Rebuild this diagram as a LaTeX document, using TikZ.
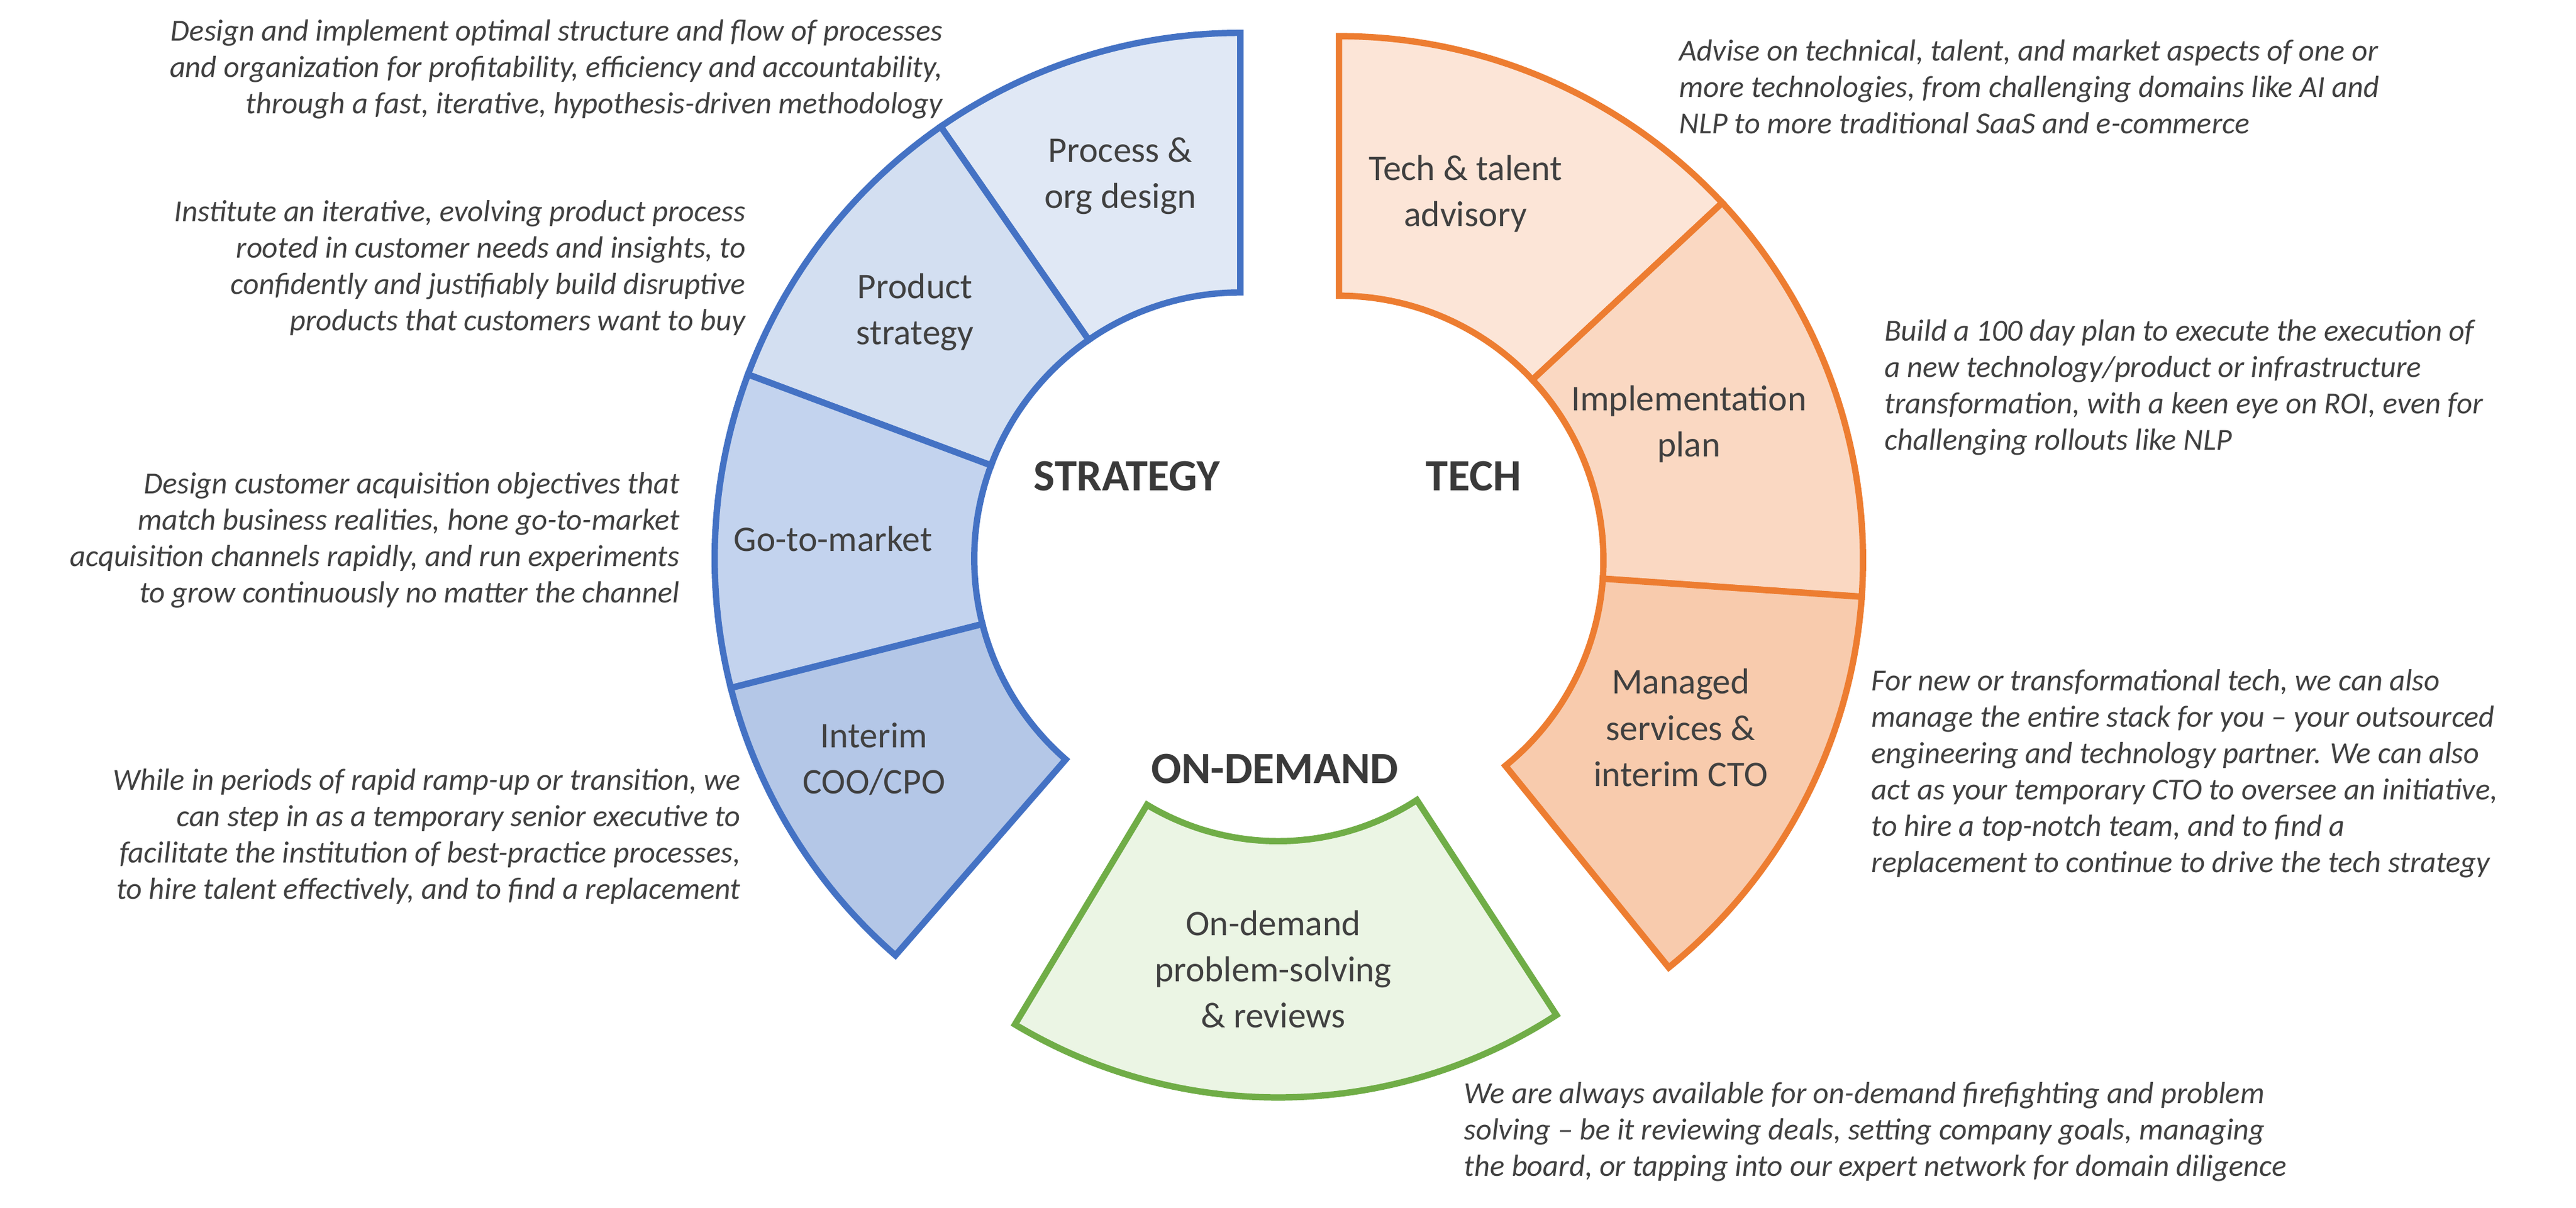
\documentclass[tikz,border=0pt]{standalone}
\usepackage{fontspec}
\setmainfont{Carlito}
\usepackage{tikz}
\usetikzlibrary{positioning}
\definecolor{textgrey}{HTML}{404040}
\definecolor{stratline}{HTML}{4472C4}
\definecolor{techline}{HTML}{ED7D31}
\definecolor{demandline}{HTML}{70AD47}
\definecolor{stratA}{HTML}{E0E8F5}
\definecolor{stratB}{HTML}{D3DFF1}
\definecolor{stratC}{HTML}{C3D3EE}
\definecolor{stratD}{HTML}{B4C7E7}
\definecolor{techA}{HTML}{FCE5D7}
\definecolor{techB}{HTML}{FAD8C2}
\definecolor{techC}{HTML}{F8CBAD}
\definecolor{demandA}{HTML}{EBF5E4}

% #1 centre, #2 start angle, #3 end angle, #4 inner radius, #5 outer radius, #6 style
\newcommand{\ringpart}[6]{%
  \draw[#6] ([shift={(#2:#5)}]#1) arc[start angle=#2, end angle=#3, radius=#5]
    -- ([shift={(#3:#4)}]#1) arc[start angle=#3, end angle=#2, radius=#4] -- cycle;}

\begin{document}
\begin{tikzpicture}[x=0.02cm, y=0.02cm,
    part/.style={line width=2.2pt, line join=miter},
    seglabel/.style={align=center, text=textgrey, font=\fontsize{12.5}{16}\selectfont},
    head/.style={text=textgrey!90!black, font=\fontsize{15.5}{18}\selectfont\bfseries},
    desc/.style={text=textgrey, font=\fontsize{10.6}{12.6}\selectfont\itshape}
]
\useasboundingbox (0,0) rectangle (1568,735);

\coordinate (strat) at (755,395);
\coordinate (tech) at (815,394);
\coordinate (demand) at (778,378);

% strategy
\ringpart{strat}{90}{124.75}{162}{320}{part, draw=stratline, fill=stratA}
\ringpart{strat}{124.75}{159.5}{162}{320}{part, draw=stratline, fill=stratB}
\ringpart{strat}{159.5}{194.25}{162}{320}{part, draw=stratline, fill=stratC}
\ringpart{strat}{194.25}{229}{162}{320}{part, draw=stratline, fill=stratD}

% tech
\ringpart{tech}{43}{90}{161}{319}{part, draw=techline, fill=techA}
\ringpart{tech}{-4}{43}{161}{319}{part, draw=techline, fill=techB}
\ringpart{tech}{-51}{-4}{161}{319}{part, draw=techline, fill=techC}

% on-demand
\ringpart{demand}{239}{303}{155}{311}{part, draw=demandline, fill=demandA}

\node[seglabel] (process) at (682,628) {Process \&\\org design};
\node[seglabel] (product) at (557,545) {Product\\strategy};
\node[seglabel] (gtm) at (507,407) {Go-to-market};
\node[seglabel] (interim) at (532,273) {Interim\\COO/CPO};
\node[seglabel] (advisory) at (892,617) {Tech \& talent\\advisory};
\node[seglabel] (implplan) at (1028,477) {Implementation\\plan};
\node[seglabel] (managed) at (1023,292) {Managed\\services \&\\interim CTO};
\node[seglabel] (ondemand) at (775,145) {On-demand\\problem-solving\\\& reviews};

\node[head] (strathead) at (686,445) {STRATEGY};
\node[head] (techhead) at (897,445) {TECH};
\node[head] (demandhead) at (776,267) {ON-DEMAND};

\node[desc, anchor=east, align=right] (processdesc) at (580,693) {Design and implement optimal structure and flow of processes\\and organization for profitability, efficiency and accountability,\\through a fast, iterative, hypothesis-driven methodology};
\node[desc, anchor=east, align=right] (productdesc) at (460,572) {Institute an iterative, evolving product process\\rooted in customer needs and insights, to\\confidently and justifiably build disruptive\\products that customers want to buy};
\node[desc, anchor=east, align=right] (gtmdesc) at (420,406) {Design customer acquisition objectives that\\match business realities, hone go-to-market\\acquisition channels rapidly, and run experiments\\to grow continuously no matter the channel};
\node[desc, anchor=east, align=right] (interimdesc) at (457,226) {While in periods of rapid ramp-up or transition, we\\can step in as a temporary senior executive to\\facilitate the institution of best-practice processes,\\to hire talent effectively, and to find a replacement};
\node[desc, anchor=west, align=left] (advisorydesc) at (1016,682) {Advise on technical, talent, and market aspects of one or\\more technologies, from challenging domains like AI and\\NLP to more traditional SaaS and e-commerce};
\node[desc, anchor=west, align=left] (impldesc) at (1141,499) {Build a 100 day plan to execute the execution of\\a new technology/product or infrastructure\\transformation, with a keen eye on ROI, even for\\challenging rollouts like NLP};
\node[desc, anchor=west, align=left] (manageddesc) at (1133,264) {For new or transformational tech, we can also\\manage the entire stack for you -- your outsourced\\engineering and technology partner. We can also\\act as your temporary CTO to oversee an initiative,\\to hire a top-notch team, and to find a\\replacement to continue to drive the tech strategy};
\node[desc, anchor=west, align=left] (demanddesc) at (885,46) {We are always available for on-demand firefighting and problem\\solving -- be it reviewing deals, setting company goals, managing\\the board, or tapping into our expert network for domain diligence};
\end{tikzpicture}
\end{document}
